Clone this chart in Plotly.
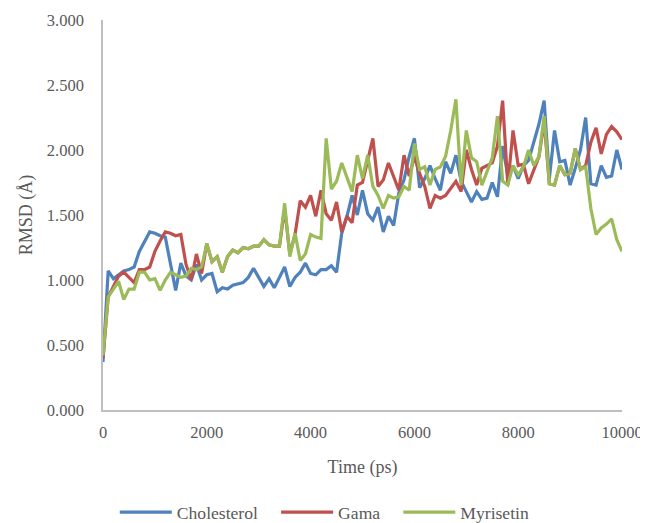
import plotly.graph_objects as go

time_ps = list(range(0, 10001, 100))

cholesterol = [
    0.37, 1.07, 1.01, 1.04, 1.07, 1.08, 1.10, 1.22, 1.30, 1.37,
    1.36, 1.34, 1.33, 1.12, 0.92, 1.13, 1.03, 1.00, 1.12, 1.00,
    1.04, 1.05, 0.91, 0.94, 0.93, 0.96, 0.97, 0.98, 1.02, 1.09,
    1.02, 0.95, 1.01, 0.94, 1.02, 1.10, 0.95, 1.02, 1.06, 1.13,
    1.05, 1.04, 1.08, 1.08, 1.11, 1.06, 1.36, 1.49, 1.65, 1.50,
    1.69, 1.51, 1.46, 1.56, 1.37, 1.49, 1.42, 1.67, 1.77, 1.95,
    2.09, 1.71, 1.78, 1.88, 1.78, 1.69, 1.91, 1.82, 1.96, 1.76,
    1.68, 1.60, 1.68, 1.62, 1.63, 1.75, 1.64, 2.03, 1.80, 1.88,
    1.78, 1.88, 1.92, 2.05, 2.20, 2.38, 1.78, 2.15, 1.91, 1.92,
    1.73, 1.86, 2.00, 2.25, 1.74, 1.73, 1.88, 1.79, 1.80, 2.00,
    1.85,
]

myrisetin = [
    0.42, 0.87, 0.93, 0.99, 0.85, 0.93, 0.93, 1.06, 1.06, 1.00,
    1.01, 0.92, 1.00, 1.06, 1.04, 1.02, 1.03, 1.09, 1.08, 1.10,
    1.28, 1.14, 1.18, 1.06, 1.18, 1.23, 1.21, 1.25, 1.24, 1.26,
    1.26, 1.31, 1.27, 1.26, 1.26, 1.59, 1.18, 1.36, 1.15, 1.20,
    1.35, 1.33, 1.32, 2.09, 1.70, 1.76, 1.90, 1.79, 1.68, 1.96,
    1.78, 1.96, 1.72, 1.65, 1.55, 1.65, 1.63, 1.64, 1.72, 1.69,
    2.05, 1.85, 1.87, 1.73, 1.85, 1.87, 1.95, 2.15, 2.39, 1.73,
    2.15, 1.94, 1.91, 1.73, 1.83, 1.94, 2.26, 1.76, 1.73, 1.88,
    1.81, 1.87, 2.00, 1.88, 1.95, 2.26, 1.74, 1.73, 1.88, 1.81,
    1.82, 2.01, 1.85, 1.87, 1.55, 1.35, 1.40, 1.43, 1.47, 1.31,
    1.22,
]

gama = [
    0.40, 0.87, 0.95, 1.03, 1.06, 1.02, 0.98, 1.08, 1.08, 1.10,
    1.22, 1.30, 1.37, 1.36, 1.34, 1.35, 1.12, 1.00, 1.20, 1.05,
    1.28, 1.14, 1.18, 1.06, 1.18, 1.23, 1.21, 1.25, 1.24, 1.26,
    1.26, 1.31, 1.27, 1.26, 1.26, 1.55, 1.20, 1.35, 1.61, 1.56,
    1.65, 1.49, 1.69, 1.51, 1.46, 1.60, 1.37, 1.49, 1.44, 1.73,
    1.75, 1.92, 2.09, 1.72, 1.77, 1.90, 1.80, 1.69, 1.96, 1.80,
    1.95, 1.82, 1.72, 1.55, 1.65, 1.63, 1.65, 1.71, 1.76, 1.68,
    2.00, 1.85, 1.73, 1.86, 1.88, 1.90, 2.03, 2.38, 1.73, 2.15,
    1.88, 1.89, 1.74, 1.85, 1.95, 2.22, 1.74, 1.73, 1.88, 1.81,
    1.82, 2.01, 1.85, 1.88, 2.06, 2.17, 1.97, 2.12, 2.18, 2.14,
    2.08,
]

series_names = ["Cholesterol", "Gama", "Myrisetin"]
series_values = [cholesterol, gama, myrisetin]
series_colors = ["#4F81BD", "#C0504D", "#9BBB59"]

x_ticks = [0, 2000, 4000, 6000, 8000, 10000]
y_ticks = [0.0, 0.5, 1.0, 1.5, 2.0, 2.5, 3.0]

FONT = "Liberation Serif, Times New Roman, serif"
GREY = "#595959"
PAD = "\u00a0" * 3

fig = go.Figure()
for i, (name, vals, col) in enumerate(zip(series_names, series_values, series_colors)):
    label = name + (PAD if i < len(series_names) - 1 else "")
    fig.add_trace(go.Scatter(
        x=time_ps, y=vals, mode="lines", name=label,
        line=dict(color=col, width=3.2, shape="linear"),
    ))

fig.update_layout(
    width=640, height=515,
    margin=dict(l=95, r=26, t=12, b=113, autoexpand=False),
    paper_bgcolor="white", plot_bgcolor="white",
    font=dict(family=FONT, size=16.5, color=GREY),
    showlegend=True,
    legend=dict(
        orientation="h", xref="container", x=0.495, xanchor="center",
        yref="container", y=0.021, yanchor="middle",
        font=dict(family=FONT, size=17.6, color=GREY),
        itemwidth=52, tracegroupgap=0,
    ),
    xaxis=dict(
        range=[0, 10000], tickvals=x_ticks, ticktext=[str(v) for v in x_ticks],
        showgrid=False, zeroline=False, showline=True, linecolor="#BFBFBF",
        linewidth=1.5, ticks="", ticklabelstandoff=6,
        title=dict(text="Time (ps)", font=dict(family=FONT, size=18, color=GREY),
                   standoff=20),
    ),
    yaxis=dict(
        range=[0, 3], tickvals=y_ticks, tickformat=".3f",
        showgrid=False, zeroline=False, showline=True, linecolor="#BFBFBF",
        linewidth=1.5, ticks="", ticklabelstandoff=14,
        title=dict(text="RMSD (Å)", font=dict(family=FONT, size=18, color=GREY),
                   standoff=10),
    ),
)

fig.write_html("out.html")
